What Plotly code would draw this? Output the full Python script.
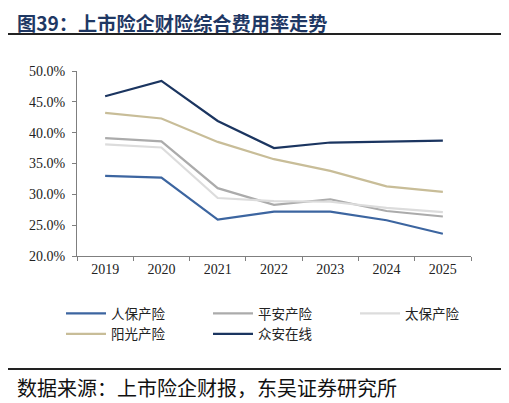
import plotly.graph_objects as go

years = ["2019", "2020", "2021", "2022", "2023", "2024", "2025"]
renbao = [33.0, 32.7, 25.9, 27.2, 27.2, 25.8, 23.6]
pingan = [39.1, 38.6, 31.0, 28.3, 29.2, 27.3, 26.4]
taibao = [38.1, 37.6, 29.4, 28.9, 28.8, 27.8, 27.1]
yangguang = [43.2, 42.3, 38.5, 35.7, 33.8, 31.3, 30.4]
zhongan = [45.9, 48.4, 41.9, 37.5, 38.4, 38.6, 38.7]

series = [
    ("人保产险", renbao, "#3C65A0"),
    ("平安产险", pingan, "#ABABAB"),
    ("太保产险", taibao, "#DCDCDC"),
    ("阳光产险", yangguang, "#C8BD98"),
    ("众安在线", zhongan, "#1B3560"),
]

fig = go.Figure()
for name, vals, color in series:
    fig.add_trace(go.Scatter(
        x=years, y=vals, name=name, mode="lines",
        line=dict(color=color, width=2.2),
    ))

cjk = "Noto Sans CJK SC"
serif = "Liberation Serif"

# page body has an 8px default margin; work in reference pixel coords
OFF = 8
W, H = 509 - OFF, 403 - OFF
L, R, T, B = 77 - OFF, 38, 71 - OFF, 147
PW, PH = W - L - R, H - T - B


def px(x):
    return (x - OFF - L) / PW


def py(y):
    return (H - B - (y - OFF)) / PH


def rule_arrow(y):
    # horizontal rule drawn as a headless annotation arrow
    return dict(text="", xref="paper", yref="paper",
                x=px(503), y=py(y), ax=-(503 - 8), ay=0,
                showarrow=True, arrowhead=0, arrowwidth=2,
                arrowcolor="#222222", standoff=0, startstandoff=0)


def rule_box(y):
    # horizontal rule drawn as a thin filled annotation box
    return dict(text=" ", xref="paper", yref="paper",
                x=px(8), y=py(y), xanchor="left", yanchor="middle",
                width=495, height=1, borderpad=0, borderwidth=0,
                bgcolor="#222222", showarrow=False, font=dict(size=1))


fig.update_layout(
    width=W, height=H,
    margin=dict(l=L, r=R, t=T, b=B, autoexpand=False),
    paper_bgcolor="white", plot_bgcolor="white",
    showlegend=True,
    legend=dict(
        orientation="h",
        x=px(61), y=py(298), xanchor="left", yanchor="top",
        font=dict(family=cjk, size=13.5, color="#222"),
        entrywidth=92, entrywidthmode="pixels",
        tracegroupgap=0, itemwidth=40, bgcolor="rgba(0,0,0,0)",
    ),
    xaxis=dict(
        type="category", showgrid=False, zeroline=False,
        range=[-0.5, 6.5],
        showline=True, linecolor="#7F7F7F", linewidth=1.3,
        ticks="outside", ticklen=4, tickcolor="#7F7F7F",
        tickson="boundaries",
        tickfont=dict(family=serif, size=14, color="#222"),
    ),
    yaxis=dict(
        range=[20, 50], dtick=5, showgrid=False, zeroline=False,
        showline=True, linecolor="#7F7F7F", linewidth=1.3,
        ticks="outside", ticklen=4, tickcolor="#7F7F7F",
        ticksuffix="%", tickformat=".1f", ticklabelstandoff=4,
        tickfont=dict(family=serif, size=14, color="#222"),
    ),
    shapes=[
        dict(type="line", xref="paper", yref="paper",
             x0=px(8), x1=px(503), y0=py(34), y1=py(34),
             line=dict(color="#222222", width=2)),
        dict(type="line", xref="paper", yref="paper",
             x0=px(8), x1=px(503), y0=py(369), y1=py(369),
             line=dict(color="#222222", width=2)),
    ],
    annotations=[
        dict(text="<b>图39：上市险企财险综合费用率走势</b>", xref="paper", yref="paper",
             x=px(16), y=py(8), borderpad=0,
             xanchor="left", yanchor="top", showarrow=False,
             font=dict(family=cjk, size=19.2, color="#1F3864")),
        dict(text="数据来源：上市险企财报，东吴证券研究所", xref="paper", yref="paper",
             x=px(15), y=py(387),
             xanchor="left", yanchor="middle", showarrow=False,
             font=dict(family=cjk, size=20, color="#111")),
        rule_arrow(34),
        rule_arrow(369),
        rule_box(369),
    ],
)

fig.write_html("out.html", config={"displayModeBar": False})
